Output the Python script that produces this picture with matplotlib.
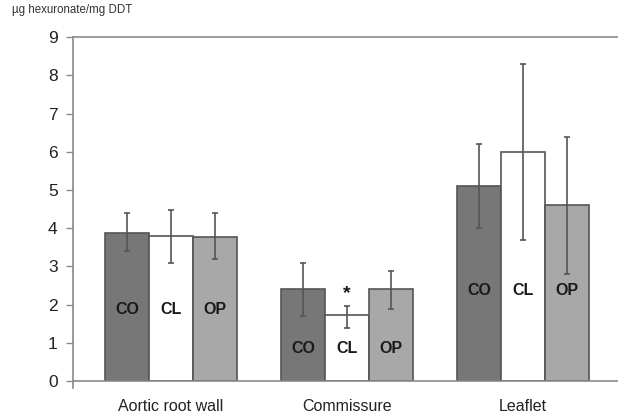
import matplotlib
matplotlib.use("Agg")
import matplotlib.pyplot as plt
import numpy as np

plt.rcParams["font.family"] = ["Liberation Sans", "DejaVu Sans"]

groups = ["Aortic root wall", "Commissure", "Leaflet"]
series = ["CO", "CL", "OP"]
means = {
    "CO": [3.87, 2.40, 5.10],
    "CL": [3.80, 1.72, 5.99],
    "OP": [3.77, 2.40, 4.61],
}
err_low = {
    "CO": [3.40, 1.70, 4.00],
    "CL": [3.09, 1.38, 3.68],
    "OP": [3.20, 1.89, 2.80],
}
err_high = {
    "CO": [4.41, 3.08, 6.20],
    "CL": [4.48, 1.97, 8.29],
    "OP": [4.41, 2.89, 6.40],
}
label_y = [1.86, 0.84, 2.38]
yticks = list(range(0, 10))
ylabel = "µg hexuronate/mg DDT"

colors = {"CO": "#777777", "CL": "#ffffff", "OP": "#a8a8a8"}
edge = "#555555"
axcol = "#8a8a8a"

fig = plt.figure(figsize=(6.18, 4.17), dpi=100)
ax = fig.add_axes([73/618, 1-381/417, 1-73/618, (381-37.3)/417])

x = np.arange(len(groups))
w = 0.25
for i, s in enumerate(series):
    xs = x + (i - 1) * w
    m = np.array(means[s])
    lo = m - np.array(err_low[s])
    hi = np.array(err_high[s]) - m
    ax.bar(xs, m, width=w, color=colors[s], edgecolor=edge, linewidth=1.2, zorder=2)
    ax.errorbar(xs, m, yerr=[lo, hi], fmt="none", ecolor="#555555",
                elinewidth=1.2, capsize=2.5, capthick=1.2, zorder=3)
    for j in range(len(groups)):
        ax.text(xs[j], label_y[j], s, ha="center", va="center",
                fontsize=11.5, fontweight="bold", color="#1a1a1a", zorder=4)

# significance star above Commissure CL
ax.text(x[1], 2.30, "*", ha="center", va="center", fontsize=14,
        fontweight="bold", color="#1a1a1a")

ax.set_xlim(-0.557, 2.54)
ax.set_ylim(0, 9)
ax.set_yticks(yticks)
ax.set_yticklabels([str(t) for t in yticks], fontsize=12.5, color="#222222")
ax.set_xticks(x)
ax.set_xticklabels(groups, fontsize=11.5, color="#222222")
ax.tick_params(axis="x", length=0, pad=13)
ax.tick_params(axis="y", direction="out", length=5, width=1, color=axcol, pad=6)

ax.spines["right"].set_visible(False)
for sp in ["left", "bottom", "top"]:
    ax.spines[sp].set_color(axcol)
    ax.spines[sp].set_linewidth(1.2)
ax.spines["left"].set_bounds(-0.18, 9)

fig.text(12/618, 1-10/417, ylabel, fontsize=8.3, color="#333333",
         ha="left", va="center")

fig.savefig("out.png", dpi=100)
